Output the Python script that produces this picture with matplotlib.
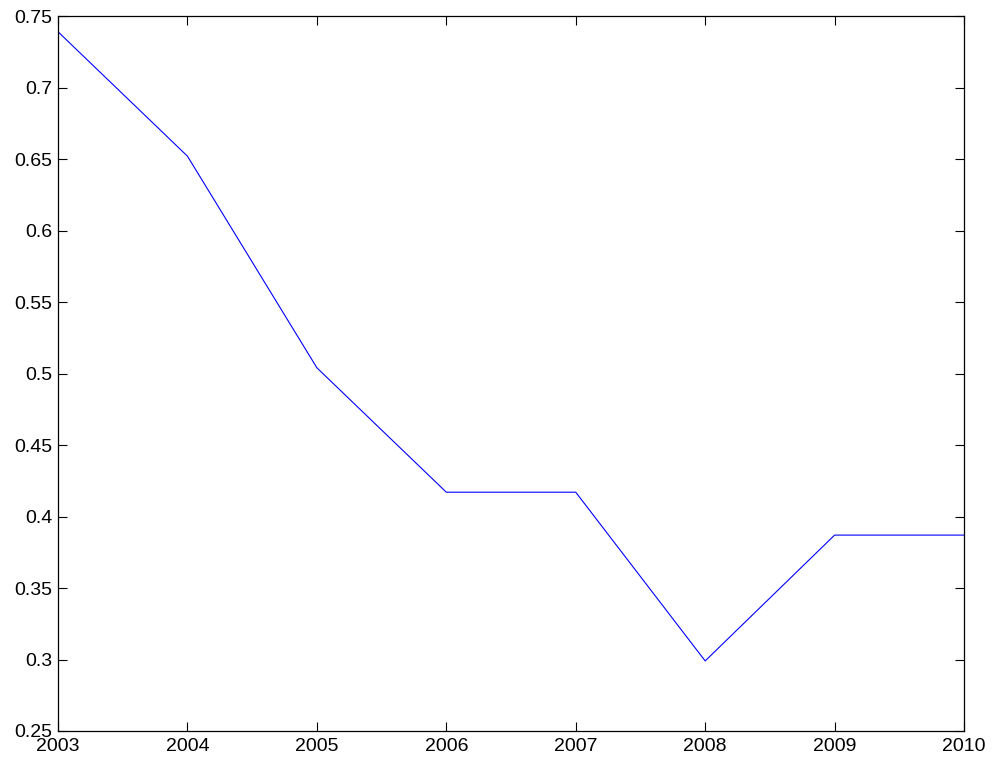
import matplotlib
matplotlib.use("Agg")
import matplotlib.pyplot as plt

years = [2003, 2004, 2005, 2006, 2007, 2008, 2009, 2010]
values = [0.739, 0.652, 0.504, 0.417, 0.417, 0.299, 0.387, 0.387]
yticks = [0.25, 0.3, 0.35, 0.4, 0.45, 0.5, 0.55, 0.6, 0.65, 0.7, 0.75]
ytick_labels = ["0.25", "0.3", "0.35", "0.4", "0.45", "0.5", "0.55", "0.6", "0.65", "0.7", "0.75"]

plt.rcParams['font.family'] = ['Liberation Sans', 'DejaVu Sans']
fig = plt.figure(figsize=(9.92, 7.64), dpi=100)
ax = fig.add_axes([0.0585, 0.0432, 0.9133, 0.9358])
ax.plot(years, values, color=(0, 0, 1), linewidth=0.8)
ax.set_xlim(2003, 2010)
ax.set_ylim(0.25, 0.75)
ax.set_xticks(years)
ax.set_xticklabels([str(y) for y in years])
ax.set_yticks(yticks)
ax.set_yticklabels(ytick_labels)
ax.tick_params(direction='in', length=6.5, width=0.8, top=True, right=True, labelsize=14)
ax.tick_params(axis='x', pad=5)
ax.tick_params(axis='y', pad=4)
for s in ax.spines.values():
    s.set_linewidth(0.9)
fig.savefig("out.png", dpi=100)
